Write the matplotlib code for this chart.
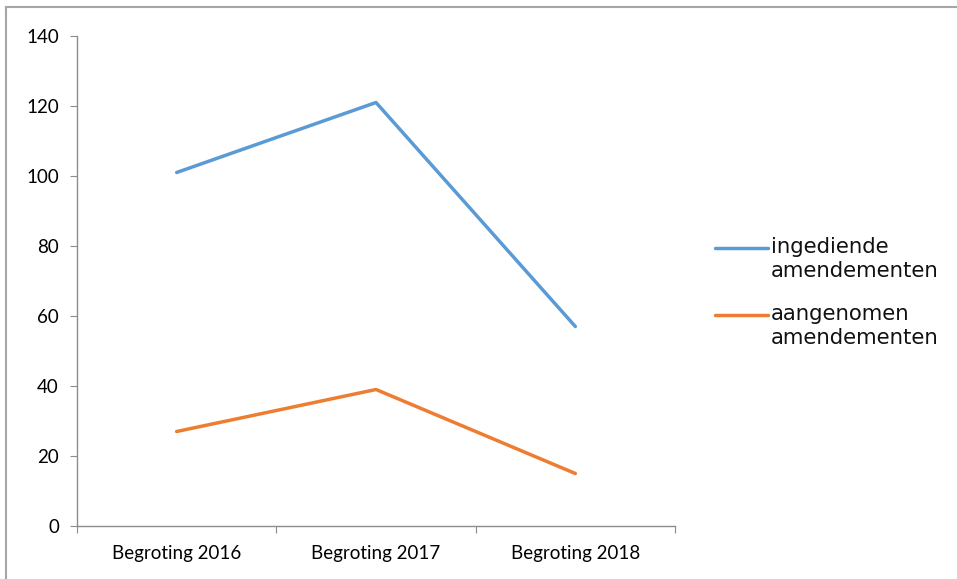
import matplotlib.pyplot as plt
from matplotlib.lines import Line2D

# Data
categorieen = ['Begroting 2016', 'Begroting 2017', 'Begroting 2018']
ingediend = [101, 121, 57]
aangenomen = [27, 39, 15]
reeksen = ['ingediende\namendementen', 'aangenomen\namendementen']
kleuren = ['#5B9BD5', '#ED7D31']

W, H = 957, 579
fig = plt.figure(figsize=(W / 100, H / 100), dpi=100)
ax = fig.add_axes([77 / W, 1 - 526 / H, (675 - 77) / W, (526 - 36) / H])

x = range(len(categorieen))
for vals, kleur in zip([ingediend, aangenomen], kleuren):
    ax.plot(x, vals, color=kleur, linewidth=2.5, solid_capstyle='round')

ax.set_xlim(-0.5, len(categorieen) - 0.5)
ax.set_ylim(0, 140)
ax.set_yticks(range(0, 141, 20))
ax.set_xticks([i - 0.5 for i in range(len(categorieen) + 1)])
ax.set_xticklabels([])
ax.set_xticks(list(x), minor=True)
ax.set_xticklabels(categorieen, minor=True, fontsize=13.5, family='Lato')
ax.tick_params(axis='x', which='minor', length=0, pad=14)
ax.tick_params(axis='x', which='major', length=5, color='#8c8c8c', direction='out')
ax.tick_params(axis='y', length=5, color='#8c8c8c', direction='out', pad=8)
for lbl in ax.get_yticklabels():
    lbl.set_family('Lato')
    lbl.set_fontsize(13.5)

for s in ['top', 'right']:
    ax.spines[s].set_visible(False)
for s in ['left', 'bottom']:
    ax.spines[s].set_color('#8c8c8c')
    ax.spines[s].set_linewidth(1)

# Legend, drawn by hand so the handle sits on the first text line
legend_y = [248, 315]
for lbl, kleur, yy in zip(reeksen, kleuren, legend_y):
    fig.add_artist(Line2D([715 / W, 768 / W], [1 - yy / H] * 2, color=kleur,
                          linewidth=2.5, solid_capstyle='round'))
    fig.text(771 / W, 1 - (yy - 11) / H, lbl, fontsize=15.3, family='DejaVu Sans',
             va='top', ha='left', linespacing=1.22, color='#111111')

# Chart frame (partially visible)
frame_kw = dict(color='#a6a6a6', linewidth=1.5)
fig.add_artist(Line2D([6 / W, 6 / W], [0, 1 - 7 / H], **frame_kw))
fig.add_artist(Line2D([6 / W, 1], [1 - 7 / H, 1 - 7 / H], **frame_kw))

fig.savefig('out.png', dpi=100)
